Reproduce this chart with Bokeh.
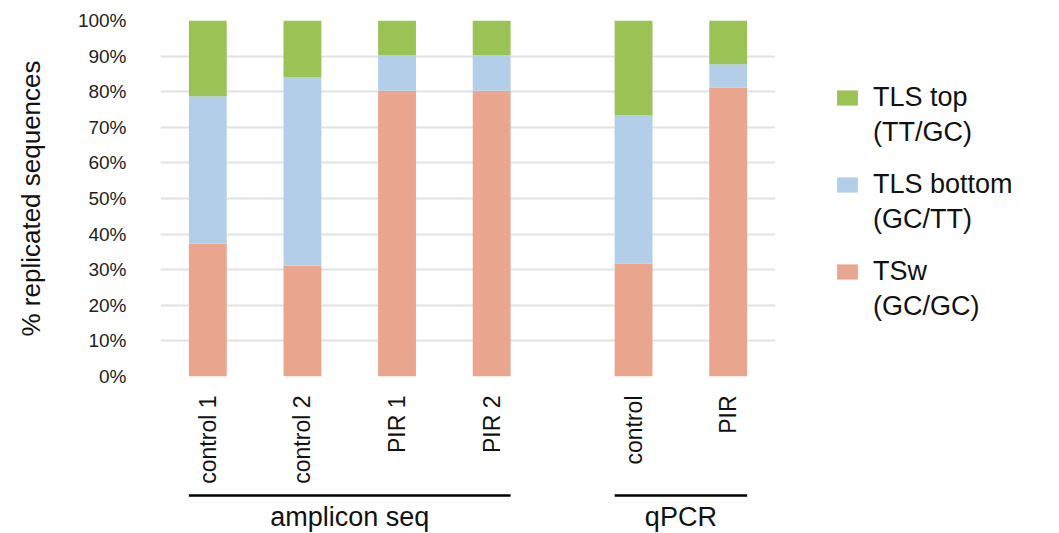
import math
from bokeh.plotting import figure
from bokeh.layouts import row, column
from bokeh.models import (ColumnDataSource, FixedTicker, PrintfTickFormatter, Range1d,
                          Legend, LegendItem)
from bokeh.core.properties import value
from bokeh.embed import file_html
from bokeh.resources import INLINE

# ---------------- data ----------------
categories = ["control 1", "control 2", "PIR 1", "PIR 2", "control", "PIR"]
groups = ["amplicon seq", "amplicon seq", "amplicon seq", "amplicon seq", "qPCR", "qPCR"]
tsw = [37.3, 31.2, 80.3, 80.3, 31.7, 81.2]          # TSw (GC/GC)
tls_bottom = [41.4, 52.9, 10.0, 10.0, 41.6, 6.5]    # TLS bottom (GC/TT)
tls_top = [21.3, 15.9, 9.7, 9.7, 26.7, 12.3]        # TLS top (TT/GC)
series_keys = ["tsw", "tls_bottom", "tls_top"]
series_names = ["TSw", "TLS bottom", "TLS top"]
series_subnames = ["(GC/GC)", "(GC/TT)", "(TT/GC)"]
y_ticks = [0, 10, 20, 30, 40, 50, 60, 70, 80, 90, 100]

# ---------------- styles ----------------
COLORS = ["#eaa58e", "#b3cee8", "#9bc254"]
FONT = "Liberation Sans"
TXT = "#111111"
GROUP_GAP = 0.5
BAR_W = 0.4

group_names = list(dict.fromkeys(groups))
xs = [i + GROUP_GAP * group_names.index(g) for i, g in enumerate(groups)]
x_range = Range1d(xs[0] - 0.5, xs[-1] + 0.5)

src = ColumnDataSource(dict(x=xs, tsw=tsw, tls_bottom=tls_bottom, tls_top=tls_top))

# ---------------- main chart ----------------
p = figure(width=775, height=490, output_backend="svg", toolbar_location=None,
           x_range=x_range, y_range=Range1d(0, 100),
           min_border_left=160, min_border_right=0, min_border_top=20,
           min_border_bottom=114)
p.outline_line_color = None

renderers = p.vbar_stack(series_keys, x="x", width=BAR_W, color=COLORS,
                         line_color=None, source=src)

p.xgrid.visible = False
p.ygrid.ticker = FixedTicker(ticks=y_ticks)
p.ygrid.grid_line_color = "#e2e2e2"
p.ygrid.grid_line_width = 2

ya = p.yaxis[0]
ya.ticker = FixedTicker(ticks=y_ticks)
ya.formatter = PrintfTickFormatter(format="%d%%")
ya.axis_line_color = None
ya.major_tick_line_color = None
ya.minor_tick_line_color = None
ya.major_tick_out = 0
ya.major_tick_in = 0
ya.major_label_standoff = 34
ya.major_label_text_font = FONT
ya.major_label_text_font_size = "19px"
ya.major_label_text_color = "#222222"
ya.axis_label = "% replicated sequences"
ya.axis_label_text_font = FONT
ya.axis_label_text_font_size = "26px"
ya.axis_label_text_font_style = "normal"
ya.axis_label_text_color = TXT
ya.axis_label_standoff = 29

xa = p.xaxis[0]
xa.ticker = FixedTicker(ticks=xs)
xa.major_label_overrides = {x: c for x, c in zip(xs, categories)}
xa.major_label_orientation = math.pi / 2
xa.axis_line_color = None
xa.major_tick_line_color = None
xa.minor_tick_line_color = None
xa.major_tick_out = 0
xa.major_tick_in = 0
xa.major_label_standoff = 19
xa.major_label_text_font = FONT
xa.major_label_text_font_size = "23px"
xa.major_label_text_color = TXT

# ---------------- group brackets (below the chart, shared x scale) ----------------
g_left, g_right, g_mid = [], [], []
for g in group_names:
    gx = [x for x, gg in zip(xs, groups) if gg == g]
    g_left.append(min(gx) - BAR_W / 2)
    g_right.append(max(gx) + BAR_W / 2)
    g_mid.append((min(gx) + max(gx)) / 2)

LINE_Y, LABEL_Y = 38, 17
gsrc = ColumnDataSource(dict(x0=g_left, x1=g_right, xm=g_mid, name=group_names,
                             ly=[LINE_Y] * len(group_names),
                             ty=[LABEL_Y] * len(group_names)))
pg = figure(width=775, height=43, output_backend="svg", toolbar_location=None,
            x_range=x_range, y_range=Range1d(0, 43),
            min_border_left=160, min_border_right=0, min_border_top=0,
            min_border_bottom=0)
pg.axis.visible = False
pg.grid.visible = False
pg.outline_line_color = None
pg.segment(x0="x0", y0="ly", x1="x1", y1="ly", source=gsrc, line_color="black",
           line_width=2.5)
pg.text(x="xm", y="ty", text="name", source=gsrc, text_align="center",
        text_baseline="alphabetic", text_font=value(FONT), text_font_size="27px",
        text_color=TXT)

# ---------------- legend panel ----------------
pl = figure(width=284, height=533, output_backend="svg", toolbar_location=None,
            x_range=Range1d(0, 284), y_range=Range1d(0, 533),
            min_border_left=0, min_border_right=0, min_border_top=0,
            min_border_bottom=0)
pl.axis.visible = False
pl.grid.visible = False
pl.outline_line_color = None
# zero-height swatch renderers: they draw nothing in the panel, only legend glyphs
swatch_src = ColumnDataSource(dict(x=[-10], top=[-10]))
swatches = [pl.vbar(x="x", top="top", bottom="top", width=1, color=c,
                    line_color=None, source=swatch_src)
            for c in COLORS]

LEG_X, LEG_TOP, LEG_STEP, LINE_H = 59, 80, 87, 35
order = [2, 1, 0]  # TLS top, TLS bottom, TSw
for k, i in enumerate(order):
    top = LEG_TOP + k * LEG_STEP
    items = [LegendItem(label=series_names[i], renderers=[swatches[i]]),
             LegendItem(label=series_subnames[i], renderers=[])]
    leg = Legend(items=items, location=(LEG_X, 533 - top - 2 * LINE_H),
                 padding=0, margin=0, spacing=0, glyph_width=26, glyph_height=19,
                 label_height=LINE_H, label_standoff=13,
                 label_text_font=FONT, label_text_font_size="27px",
                 label_text_color=TXT, border_line_color=None,
                 background_fill_alpha=0)
    pl.add_layout(leg)

layout = row(column(p, pg, spacing=0), pl, spacing=0)

open("out.html", "w").write(file_html(layout, INLINE))
